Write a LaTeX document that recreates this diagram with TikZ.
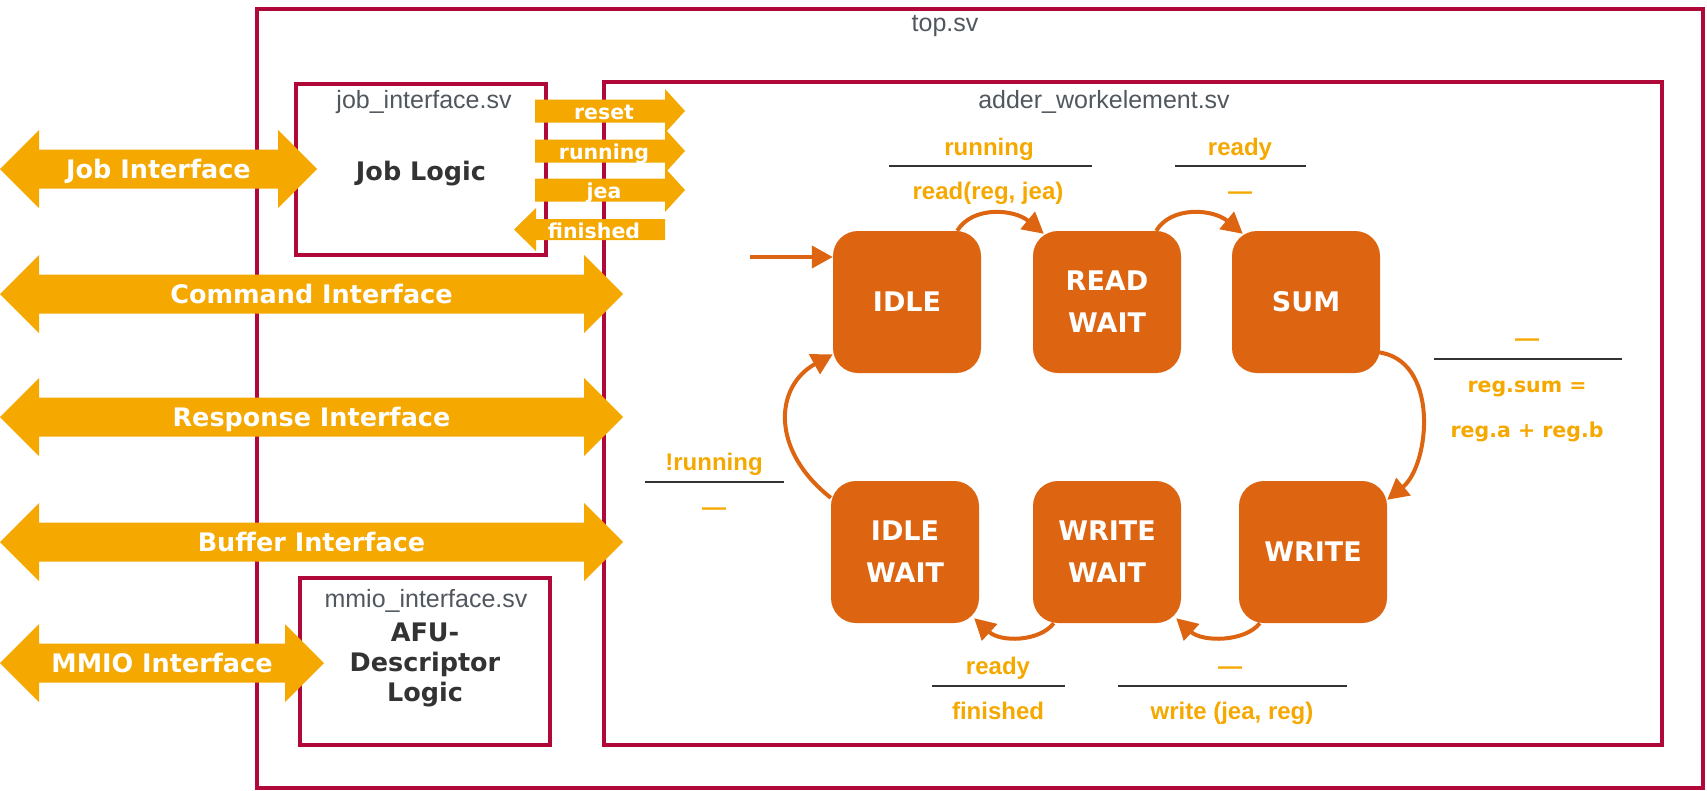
\documentclass[tikz,border=0pt]{standalone}
\usepackage{fontspec}
\setmainfont{Liberation Sans}
\newfontfamily\vfont{DejaVu Sans}
\usepackage{tikz}
\usetikzlibrary{arrows.meta}

\definecolor{wine}{HTML}{B00838}
\definecolor{gold}{HTML}{F5A800}
\definecolor{rust}{HTML}{DD6410}
\definecolor{ink}{HTML}{333333}
\definecolor{slate}{HTML}{50575E}

% bus arrow: name, left x, right x, mid y, text
\newcommand{\busarrow}[5]{%
    \fill[gold] (#2,#4) -- (#2+39,#4-39) -- (#2+39,#4-19.5) -- (#3-39,#4-19.5)
        -- (#3-39,#4-39) -- (#3,#4) -- (#3-39,#4+39) -- (#3-39,#4+19.5)
        -- (#2+39,#4+19.5) -- (#2+39,#4+39) -- cycle;
    \node[bustext] (#1) at ({(#2+#3)/2},#4+9) {#5};
}
% signal arrow to the right: name, mid y, text
\newcommand{\sigright}[3]{%
    \fill[gold] (535,#2-11.5) -- (665,#2-11.5) -- (665,#2-22) -- (685,#2)
        -- (665,#2+22) -- (665,#2+11.5) -- (535,#2+11.5) -- cycle;
    \node[sigtext] (#1) at (604,#2+8.5) {#3};
}

\begin{document}
\begin{tikzpicture}[
    % GLOBAL CFG
    x=1pt, y=-1pt,
    >={Triangle[length=21pt,width=22pt]},
    % Styles
    module/.style={% For the .sv boxes
        rectangle,
        draw=wine,
        line width=3.5pt,
        },
    filename/.style={% For the file names
        font=\fontsize{25}{28}\selectfont,
        text=slate,
        anchor=base,
        },
    logic/.style={% For the logic inside a box
        font=\vfont\bfseries\fontsize{25.5}{30}\selectfont,
        text=ink,
        align=center,
        },
    bustext/.style={% For the big interface arrows
        font=\vfont\bfseries\fontsize{25.5}{30}\selectfont,
        text=white,
        anchor=base,
        },
    sigtext/.style={% For the small signal arrows
        font=\vfont\bfseries\fontsize{20.5}{24}\selectfont,
        text=white,
        anchor=base,
        },
    fsm/.style={% For the states
        rectangle,
        rounded corners=25pt,
        fill=rust,
        text=white,
        minimum width=148pt,
        minimum height=142pt,
        inner sep=0pt,
        align=center,
        font=\vfont\bfseries\fontsize{27}{42}\selectfont,
        },
    trans/.style={% Transitions
        ->,
        draw=rust,
        line width=4pt,
        },
    guard/.style={% Transition labels
        font=\bfseries\fontsize{24}{28}\selectfont,
        text=gold,
        anchor=base,
        },
    sumtext/.style={%
        font=\vfont\bfseries\fontsize{20.5}{24}\selectfont,
        text=gold,
        anchor=base,
        },
    rule/.style={% line between condition and action
        draw=ink,
        line width=2.5pt,
        },
    ]

\useasboundingbox (0,0) rectangle (1707,790);

    % Draw the boxes
    \node[module, minimum width=1446pt, minimum height=779pt] (top) at (980,398.5) {};
    \node[module, minimum width=250pt, minimum height=171pt] (job) at (421,169.5) {};
    \node[module, minimum width=1058pt, minimum height=663pt] (adder) at (1133,413.5) {};
    \node[module, minimum width=250pt, minimum height=167pt] (mmio) at (425,661.5) {};

    \node[filename] (topname) at (945,31) {top.sv};
    \node[filename] (jobname) at (424,108) {job\_interface.sv};
    \node[filename] (addername) at (1104,108) {adder\_workelement.sv};
    \node[filename] (mmioname) at (426,607) {mmio\_interface.sv};

    \node[logic, anchor=base] (joblogic) at (421,180) {Job Logic};
    \node[logic] (afulogic) at (425,665) {AFU-\\Descriptor\\Logic};

    % Interface arrows
    \busarrow{jobif}{0}{317}{169}{Job Interface}
    \busarrow{cmdif}{0}{623}{294}{Command Interface}
    \busarrow{rspif}{0}{623}{417}{Response Interface}
    \busarrow{bufif}{0}{623}{542}{Buffer Interface}
    \busarrow{mmioif}{0}{324}{663}{MMIO Interface}

    % Signals
    \sigright{reset}{111}{reset}
    \sigright{running}{151}{running}
    \sigright{jea}{190}{jea}
    \fill[gold] (665,219) -- (536,219) -- (536,208) -- (514,229.5)
        -- (536,251) -- (536,240) -- (665,240) -- cycle;
    \node[sigtext] (finished) at (594,238) {finished};

    % States
    \node[fsm] (idle) at (907,302) {IDLE};
    \node[fsm] (readwait) at (1107,302) {READ\\WAIT};
    \node[fsm] (sum) at (1306,302) {SUM};
    \node[fsm] (idlewait) at (905,552) {IDLE\\WAIT};
    \node[fsm] (writewait) at (1107,552) {WRITE\\WAIT};
    \node[fsm] (write) at (1313,552) {WRITE};

    % Transitions
    \coordinate (init) at (750,257);
    \draw[trans] (init) -- (init -| idle.west);
    \draw[trans] ([xshift=-24pt]idle.north east) .. controls +(15,-25) and +(-30,-25) .. ([xshift=11pt,yshift=-3pt]readwait.north west);
    \draw[trans] ([xshift=-25pt]readwait.north east) .. controls +(15,-25) and +(-30,-25) .. ([xshift=11pt,yshift=-3pt]sum.north west);
    \draw[trans] ([xshift=-4pt,yshift=-50pt]sum.east) .. controls +(64,6) and +(43,-35) .. ([yshift=-19pt]write.north east);
    \draw[trans] ([xshift=21pt]write.south west) .. controls +(-15,19) and +(26,24) .. ([xshift=-5pt,yshift=5pt]writewait.south east);
    \draw[trans] ([xshift=21pt]writewait.south west) .. controls +(-15,19) and +(26,24) .. ([xshift=-5pt,yshift=5pt]idlewait.south east);
    \draw[trans] ([yshift=-17pt]idlewait.north west) .. controls +(-61,-48) and +(-58,32) .. ([yshift=19pt]idle.south west);

    % Labels
    \node[guard] (c1) at (989,155) {running};
    \draw[rule] (889,166) -- (1092,166);
    \node[guard] (a1) at (988,199) {read(reg, jea)};

    \node[guard] (c2) at (1240,155) {ready};
    \draw[rule] (1175,166) -- (1306,166);
    \node[guard] (a2) at (1240,199) {—};

    \node[guard] (c3) at (1527,346) {—};
    \draw[rule] (1434,359) -- (1622,359);
    \node[sumtext] (a3) at (1527,392) {reg.sum =};
    \node[sumtext] (a3b) at (1527,437) {reg.a + reg.b};

    \node[guard] (c4) at (1230,674) {—};
    \draw[rule] (1118,686) -- (1347,686);
    \node[guard] (a4) at (1232,719) {write (jea, reg)};

    \node[guard] (c5) at (998,674) {ready};
    \draw[rule] (932,686) -- (1065,686);
    \node[guard] (a5) at (998,719) {finished};

    \node[guard] (c6) at (714,470) {!running};
    \draw[rule] (645,482) -- (784,482);
    \node[guard] (a6) at (714,515) {—};

\end{tikzpicture}
\end{document}
